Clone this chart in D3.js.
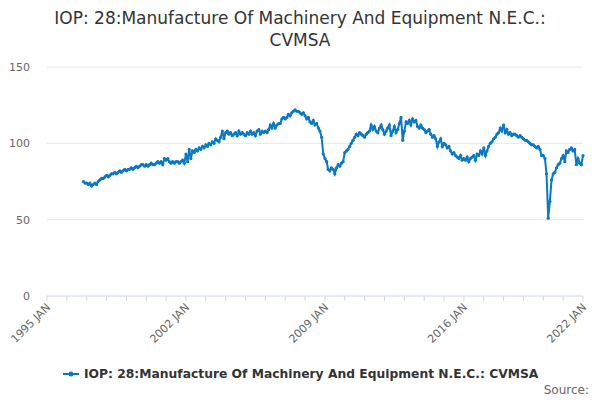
<!DOCTYPE html>
<html>
<head>
<script src="https://d3js.org/d3.v7.min.js"></script>
<style>
  body { margin: 0; font-family: "DejaVu Sans", sans-serif; background: #fff; }
</style>
</head>
<body>
<svg id="chart" width="600" height="400"></svg>
<script>
// monthly series, first value is Nov 1996
const startYear = 1996, startMonth = 10;
const values = [
  75,74,
  74,73,74,72,73,74,73,75,76,77,77,78,
  79,78,79,80,80,81,80,81,82,81,82,83,
  82,83,83,84,83,84,85,84,85,86,86,85,
  86,85,86,87,86,86,87,88,87,88,86,90,
  89,90,88,87,88,87,88,88,87,88,89,87,
  93,88,96,90,95,94,96,95,97,96,98,97,
  99,98,100,99,101,100,103,102,101,104,108,103,
  107,108,106,107,105,106,107,105,108,106,107,106,
  105,107,106,108,106,107,105,108,109,106,108,107,
  108,107,109,112,110,113,110,112,113,113,116,117,
  116,117,119,118,120,121,122,121,121,120,119,120,
  118,116,117,114,113,115,112,113,110,108,104,93,
  90,88,83,82,84,83,80,84,86,85,87,88,
  94,95,96,98,100,102,104,106,105,107,106,105,
  104,106,107,108,112,109,111,108,107,110,112,109,
  106,108,110,112,105,108,111,107,109,113,117,102,
  108,114,113,115,112,116,114,115,111,110,112,110,
  109,107,108,109,106,104,105,103,98,101,103,98,
  100,99,97,98,95,93,94,92,91,90,92,89,
  90,89,91,88,90,91,92,89,93,92,95,93,
  97,92,95,98,100,101,103,104,106,107,110,108,
  112,107,109,106,107,105,106,106,105,104,105,104,
  103,102,102,101,100,99,99,98,97,98,96,92,
  92,90,80,51,62,76,80,81,84,86,87,90,
  92,88,95,94,96,97,95,96,86,90,87,86,
  92
];
const yTicks = [0, 50, 100, 150];
const xTickYears = [1995, 2002, 2009, 2016, 2022];
const seriesName = "IOP: 28:Manufacture Of Machinery And Equipment N.E.C.: CVMSA";

const data = values.map((v, i) => ({ date: new Date(startYear, startMonth + i, 1), value: v }));

const svg = d3.select("#chart");
const x = d3.scaleTime().domain([new Date(1995, 0, 1), new Date(2022, 0, 1)]).range([47, 583]);
const y = d3.scaleLinear().domain([0, 150]).range([296, 67]);

svg.append("text").attr("x", 300).attr("y", 24).attr("text-anchor", "middle")
  .attr("font-size", 17).attr("fill", "#333").text("IOP: 28:Manufacture Of Machinery And Equipment N.E.C.:");
svg.append("text").attr("x", 300).attr("y", 46).attr("text-anchor", "middle")
  .attr("font-size", 17).attr("fill", "#333").text("CVMSA");

// grid + y labels
svg.append("g").selectAll("line").data(yTicks.filter(d => d > 0)).join("line")
  .attr("x1", 47).attr("x2", 583).attr("y1", d => y(d)).attr("y2", d => y(d))
  .attr("stroke", "#e6e6e6");
svg.append("g").selectAll("text").data(yTicks).join("text")
  .attr("x", 30).attr("y", d => y(d) + 4).attr("text-anchor", "end")
  .attr("font-size", 11).attr("fill", "#666").text(d => d);

// x axis
svg.append("line").attr("x1", 47).attr("x2", 583).attr("y1", 296).attr("y2", 296).attr("stroke", "#ccd6eb");
const yearTicks = d3.range(1995, 2023).map(yr => new Date(yr, 0, 1));
svg.append("g").selectAll("line").data(yearTicks).join("line")
  .attr("x1", d => x(d)).attr("x2", d => x(d)).attr("y1", 296).attr("y2", 301)
  .attr("stroke", "#ccd6eb");
svg.append("g").selectAll("text").data(xTickYears).join("text")
  .attr("transform", d => `translate(${x(new Date(d, 0, 1)) + 4},${308}) rotate(-45)`)
  .attr("text-anchor", "end").attr("font-size", 11).attr("fill", "#666")
  .text(d => d + " JAN");

// series
const line = d3.line().x(d => x(d.date)).y(d => y(d.value));
svg.append("path").datum(data).attr("d", line).attr("fill", "none")
  .attr("stroke", "#0a78c2").attr("stroke-width", 2);
svg.append("g").selectAll("circle").data(data).join("circle")
  .attr("cx", d => x(d.date)).attr("cy", d => y(d.value)).attr("r", 1.6)
  .attr("fill", "#0a78c2");

// legend
svg.append("line").attr("x1", 63).attr("x2", 79).attr("y1", 374).attr("y2", 374)
  .attr("stroke", "#0a78c2").attr("stroke-width", 2);
svg.append("circle").attr("cx", 71).attr("cy", 374).attr("r", 2.5).attr("fill", "#0a78c2");
svg.append("text").attr("x", 84).attr("y", 378).attr("font-size", 12.3).attr("font-weight", "bold")
  .attr("fill", "#333").text(seriesName);
svg.append("text").attr("x", 589).attr("y", 394).attr("text-anchor", "end")
  .attr("font-size", 12).attr("fill", "#666").text("Source:");
</script>
</body>
</html>
